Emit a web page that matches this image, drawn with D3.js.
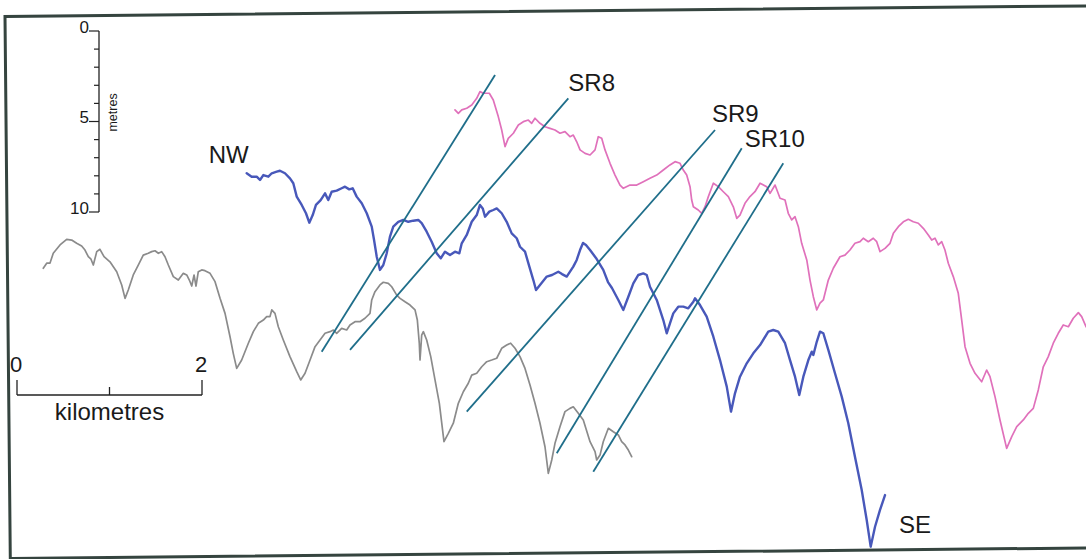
<!DOCTYPE html>
<html>
<head>
<meta charset="utf-8">
<script src="https://cdn.jsdelivr.net/npm/d3@7/dist/d3.min.js"></script>
<style>
  html, body { margin: 0; padding: 0; background: #fff; }
  svg { display: block; }
  text { font-family: "Liberation Sans", Arial, sans-serif; fill: #1a1a1a; }
</style>
</head>
<body>
<svg id="chart"></svg>
<script>
// profiles: [distance km, depth m on the figure datum]
const greyProfile = [
  [0.284,13.11],[0.321,12.83],[0.357,12.82],[0.392,12.28],[0.465,11.82],[0.537,11.51],[0.591,11.55],
  [0.645,11.73],[0.699,11.88],[0.735,12.10],[0.771,12.47],[0.800,12.61],[0.825,12.93],[0.862,12.19],
  [0.897,12.06],[0.941,12.47],[1.005,12.75],[1.078,13.30],[1.132,14.03],[1.168,14.77],[1.203,14.31],
  [1.257,13.48],[1.311,12.93],[1.365,12.38],[1.419,12.28],[1.456,12.19],[1.492,12.14],[1.528,12.28],
  [1.564,12.19],[1.600,12.47],[1.636,12.93],[1.690,13.57],[1.744,13.76],[1.798,13.39],[1.835,13.48],
  [1.863,13.76],[1.889,14.09],[1.914,13.48],[1.935,14.09],[1.960,13.30],[1.997,13.20],[2.032,13.24],
  [2.087,13.39],[2.141,13.85],[2.195,14.77],[2.249,15.60],[2.303,16.89],[2.338,17.81],[2.375,18.64],
  [2.429,18.18],[2.501,17.25],[2.555,16.61],[2.609,16.15],[2.663,15.97],[2.699,15.78],[2.735,15.78],
  [2.754,15.41],[2.789,15.60],[2.825,16.34],[2.879,17.07],[2.951,17.99],[3.024,18.82],[3.067,19.28],
  [3.114,18.91],[3.168,18.18],[3.222,17.44],[3.276,17.07],[3.330,16.70],[3.384,16.61],[3.420,16.52],
  [3.456,16.70],[3.510,16.43],[3.564,16.52],[3.600,16.24],[3.654,16.06],[3.708,16.06],[3.762,15.87],
  [3.816,15.60],[3.835,14.86],[3.870,14.40],[3.924,14.03],[3.960,13.88],[4.014,13.94],[4.051,14.13],
  [4.105,14.59],[4.141,14.77],[4.195,14.96],[4.249,15.14],[4.303,15.41],[4.328,15.97],[4.349,17.25],
  [4.357,18.18],[4.375,16.80],[4.393,16.61],[4.429,17.07],[4.473,17.99],[4.519,19.28],[4.566,20.57],
  [4.616,22.69],[4.663,22.23],[4.717,21.67],[4.771,20.57],[4.825,19.93],[4.879,19.46],[4.916,19.01],
  [4.970,18.91],[5.024,18.55],[5.078,18.27],[5.132,18.18],[5.186,18.08],[5.240,17.53],[5.294,17.35],
  [5.337,17.25],[5.384,17.53],[5.438,17.99],[5.492,18.64],[5.546,19.56],[5.600,20.57],[5.654,21.67],
  [5.708,22.97],[5.744,24.44],[5.781,23.70],[5.816,22.78],[5.870,21.86],[5.924,21.03],[5.978,20.85],
  [6.014,20.76],[6.068,21.12],[6.122,21.49],[6.195,22.69],[6.249,23.24],[6.267,23.70],[6.303,23.43],
  [6.338,22.69],[6.393,21.95],[6.447,22.14],[6.501,22.32],[6.537,22.69],[6.573,22.87],[6.609,23.15],
  [6.645,23.52]
];

const blueProfile = [
  [2.483,7.86],[2.537,8.05],[2.591,8.05],[2.627,8.23],[2.663,7.96],[2.717,8.05],[2.754,7.86],
  [2.808,7.77],[2.843,7.72],[2.897,7.86],[2.951,8.14],[2.987,8.41],[3.024,9.15],[3.078,9.61],
  [3.124,10.07],[3.160,10.59],[3.197,10.17],[3.232,9.61],[3.283,9.34],[3.330,8.97],[3.365,9.34],
  [3.402,8.88],[3.456,8.82],[3.510,8.69],[3.546,8.60],[3.592,8.75],[3.629,8.69],[3.672,9.15],
  [3.727,9.52],[3.781,10.07],[3.835,10.81],[3.860,11.55],[3.889,12.47],[3.924,13.20],[3.960,12.93],
  [3.997,12.28],[4.032,11.36],[4.068,10.81],[4.122,10.54],[4.176,10.44],[4.230,10.54],[4.284,10.48],
  [4.338,10.44],[4.375,10.62],[4.429,11.09],[4.483,11.64],[4.537,12.28],[4.581,12.56],[4.627,12.19],
  [4.681,12.38],[4.735,12.19],[4.782,12.28],[4.808,11.73],[4.862,11.27],[4.916,10.54],[4.970,10.17],
  [5.005,9.61],[5.035,9.80],[5.060,10.26],[5.106,9.98],[5.149,9.89],[5.186,9.80],[5.240,10.07],
  [5.294,10.54],[5.348,11.18],[5.402,11.45],[5.438,11.92],[5.492,12.19],[5.539,13.02],[5.582,13.76],
  [5.611,14.31],[5.654,14.03],[5.727,13.57],[5.784,13.48],[5.852,13.30],[5.892,13.43],[5.943,13.57],
  [6.014,13.02],[6.051,12.65],[6.087,12.10],[6.119,11.71],[6.151,11.82],[6.195,12.10],[6.259,12.54],
  [6.338,13.20],[6.389,13.87],[6.432,14.20],[6.501,14.86],[6.555,15.41],[6.609,14.68],[6.663,13.94],
  [6.717,13.48],[6.771,13.39],[6.808,13.48],[6.843,14.13],[6.916,14.86],[6.987,15.97],[7.024,16.70],
  [7.059,16.15],[7.095,15.60],[7.149,15.23],[7.203,15.23],[7.257,15.32],[7.312,14.96],[7.330,14.77],
  [7.384,15.14],[7.456,15.78],[7.528,16.89],[7.600,18.18],[7.673,19.65],[7.719,21.03],[7.762,20.02],
  [7.816,19.10],[7.889,18.36],[7.960,17.81],[8.033,17.35],[8.122,16.61],[8.176,16.52],[8.230,16.61],
  [8.303,17.25],[8.357,18.18],[8.411,19.10],[8.457,20.11],[8.501,19.10],[8.555,18.18],[8.592,17.72],
  [8.609,17.90],[8.646,17.17],[8.681,16.61],[8.717,16.70],[8.771,17.62],[8.843,18.91],[8.916,20.20],
  [8.987,21.67],[9.059,23.52],[9.132,25.36],[9.186,27.02],[9.229,28.49],[9.276,27.39],[9.330,26.46],
  [9.384,25.64]
];

const pinkProfile = [
  [4.735,4.36],[4.771,4.55],[4.808,4.36],[4.862,4.27],[4.916,4.09],[4.970,3.72],[5.005,3.35],
  [5.041,3.44],[5.106,3.44],[5.149,3.81],[5.203,4.73],[5.240,5.47],[5.276,6.39],[5.311,5.93],
  [5.366,5.65],[5.420,5.19],[5.474,5.01],[5.528,4.92],[5.564,5.10],[5.600,4.82],[5.654,5.10],
  [5.708,5.29],[5.762,5.38],[5.816,5.47],[5.870,5.65],[5.924,5.56],[5.978,5.84],[6.014,5.75],
  [6.051,6.12],[6.087,6.57],[6.141,6.76],[6.195,6.85],[6.249,6.57],[6.284,5.84],[6.321,5.93],
  [6.357,6.57],[6.411,7.31],[6.465,7.96],[6.519,8.51],[6.555,8.69],[6.627,8.51],[6.700,8.51],
  [6.771,8.33],[6.843,8.14],[6.916,7.96],[6.987,7.68],[7.059,7.40],[7.114,7.22],[7.168,7.31],
  [7.203,7.68],[7.240,7.96],[7.276,8.60],[7.294,9.34],[7.312,9.71],[7.365,9.89],[7.402,10.07],
  [7.438,9.71],[7.474,9.15],[7.528,8.41],[7.582,8.60],[7.636,8.88],[7.690,9.15],[7.744,9.71],
  [7.781,10.35],[7.816,10.17],[7.870,9.52],[7.924,9.15],[7.978,8.88],[8.033,8.41],[8.105,8.60],
  [8.141,8.97],[8.195,8.51],[8.249,9.24],[8.303,9.34],[8.338,10.07],[8.375,10.44],[8.411,10.26],
  [8.447,10.81],[8.483,11.73],[8.538,12.65],[8.573,13.76],[8.609,14.68],[8.646,15.41],[8.681,15.04],
  [8.717,14.86],[8.771,13.76],[8.825,13.11],[8.897,12.47],[8.951,12.38],[9.005,12.10],[9.059,11.73],
  [9.114,11.64],[9.149,11.45],[9.203,11.64],[9.257,11.45],[9.294,11.64],[9.330,12.19],[9.384,12.01],
  [9.438,11.73],[9.474,11.18],[9.528,10.81],[9.582,10.54],[9.636,10.40],[9.690,10.54],[9.744,10.62],
  [9.798,10.90],[9.852,11.27],[9.889,11.55],[9.924,11.45],[9.960,11.82],[9.997,11.64],[10.032,12.10],
  [10.068,12.83],[10.122,13.57],[10.176,14.49],[10.213,15.97],[10.249,17.44],[10.303,18.36],[10.357,18.91],
  [10.429,19.38],[10.483,18.73],[10.519,19.10],[10.573,20.20],[10.627,21.49],[10.699,23.06],[10.754,22.41],
  [10.808,21.86],[10.879,21.49],[10.933,21.12],[10.987,20.85],[11.041,19.83],[11.095,18.55],[11.149,17.99],
  [11.203,17.25],[11.257,16.70],[11.311,16.24],[11.366,16.34],[11.419,15.87],[11.474,15.56],[11.510,15.78],
  [11.557,16.34]
];

// correlation lines: [start km, start m, end km, end m]
const shorelineNames = ['', 'SR8', 'SR9', 'SR10', ''];
const shorelineEnds = [
  [3.294, 17.72, 5.168, 2.43],
  [3.600, 17.62, 5.960, 3.72],
  [4.862, 21.03, 7.546, 5.47],
  [5.835, 23.33, 7.835, 6.48],
  [6.230, 24.35, 8.284, 7.31]
];

const depthTicks = [0, 1, 2, 3, 4, 5, 6, 7, 8, 9, 10];
const depthLabels = [0, 5, 10];
const distTicks = [0, 1, 2];
const distLabels = [0, 2];

const width = 1086;
const height = 559;

const svg = d3.select('#chart')
  .attr('width', width)
  .attr('height', height);

// 2 km = 185 px, 10 m = 181 px
const x = d3.scaleLinear().domain([0, 2]).range([17, 202]);
const y = d3.scaleLinear().domain([0, 10]).range([31, 212]);

const line = d3.line()
  .x(d => x(d[0]))
  .y(d => y(d[1]));

// scanned frame, slightly rotated
svg.append('rect')
  .attr('x', 5)
  .attr('y', 16.5)
  .attr('width', 1110)
  .attr('height', 542)
  .attr('transform', 'rotate(-0.56, 5, 16.5)')
  .attr('fill', 'none')
  .attr('stroke', '#35443f')
  .attr('stroke-width', 3);

// vertical scale bar
const vAxisX = 99;
const vBar = svg.append('g');
vBar.append('line')
  .attr('x1', vAxisX).attr('x2', vAxisX)
  .attr('y1', y(0)).attr('y2', y(10))
  .attr('stroke', '#222').attr('stroke-width', 1.3);
vBar.selectAll('.tick')
  .data(depthTicks)
  .enter().append('line')
  .attr('class', 'tick')
  .attr('x1', d => depthLabels.includes(d) ? vAxisX - 10 : vAxisX - 5)
  .attr('x2', vAxisX)
  .attr('y1', d => y(d)).attr('y2', d => y(d))
  .attr('stroke', '#222').attr('stroke-width', 1.2);
vBar.selectAll('.lbl')
  .data(depthLabels)
  .enter().append('text')
  .attr('class', 'lbl')
  .attr('x', vAxisX - 10)
  .attr('y', d => y(d) + 1.5)
  .attr('text-anchor', 'end')
  .attr('font-size', 17)
  .text(d => d);
vBar.append('text')
  .attr('transform', `translate(${vAxisX + 18}, ${y(4.5)}) rotate(-90)`)
  .attr('text-anchor', 'middle')
  .attr('font-size', 12.5)
  .text('metres');

// horizontal scale bar
const hBarY = 395;
const hBar = svg.append('g');
hBar.append('line')
  .attr('x1', x(0)).attr('x2', x(2))
  .attr('y1', hBarY).attr('y2', hBarY)
  .attr('stroke', '#222').attr('stroke-width', 1.3);
hBar.selectAll('.tick')
  .data(distTicks)
  .enter().append('line')
  .attr('class', 'tick')
  .attr('x1', d => x(d)).attr('x2', d => x(d))
  .attr('y1', d => distLabels.includes(d) ? hBarY - 15 : hBarY - 8)
  .attr('y2', hBarY)
  .attr('stroke', '#222').attr('stroke-width', 1.3);
hBar.selectAll('.lbl')
  .data(distLabels)
  .enter().append('text')
  .attr('class', 'lbl')
  .attr('x', d => x(d) - 1)
  .attr('y', hBarY - 23)
  .attr('text-anchor', 'middle')
  .attr('font-size', 22)
  .text(d => d);
hBar.append('text')
  .attr('x', x(1))
  .attr('y', hBarY + 25)
  .attr('text-anchor', 'middle')
  .attr('font-size', 24)
  .text('kilometres');

// profiles
const profiles = [
  { data: greyProfile, color: '#8b8b8b', w: 1.7 },
  { data: pinkProfile, color: '#e071bb', w: 1.7 },
  { data: blueProfile, color: '#4858ba', w: 2.4 }
];
svg.append('g')
  .selectAll('path')
  .data(profiles)
  .enter().append('path')
  .attr('d', d => line(d.data))
  .attr('fill', 'none')
  .attr('stroke', d => d.color)
  .attr('stroke-width', d => d.w)
  .attr('stroke-linejoin', 'round')
  .attr('stroke-linecap', 'round');

// shoreline correlation lines
const srLayer = svg.append('g');
srLayer.selectAll('line')
  .data(shorelineEnds)
  .enter().append('line')
  .attr('x1', d => x(d[0])).attr('y1', d => y(d[1]))
  .attr('x2', d => x(d[2])).attr('y2', d => y(d[3]))
  .attr('stroke', '#1f6e8a')
  .attr('stroke-width', 1.8);

const labelOffset = [[0, 0], [0, -7], [-3, -8], [3, -1], [0, 0]];
srLayer.selectAll('text')
  .data(shorelineEnds)
  .enter().append('text')
  .attr('x', (d, i) => x(d[2]) + labelOffset[i][0])
  .attr('y', (d, i) => y(d[3]) + labelOffset[i][1])
  .attr('font-size', 24)
  .text((d, i) => shorelineNames[i]);

// end labels
const nw = blueProfile[0];
const se = blueProfile[blueProfile.length - 1];
svg.append('text')
  .attr('x', x(nw[0]) + 2)
  .attr('y', y(nw[1]) - 10)
  .attr('text-anchor', 'end')
  .attr('font-size', 24)
  .text('NW');
svg.append('text')
  .attr('x', x(se[0]) + 14)
  .attr('y', y(se[1]) + 38)
  .attr('font-size', 24)
  .text('SE');
</script>
</body>
</html>
